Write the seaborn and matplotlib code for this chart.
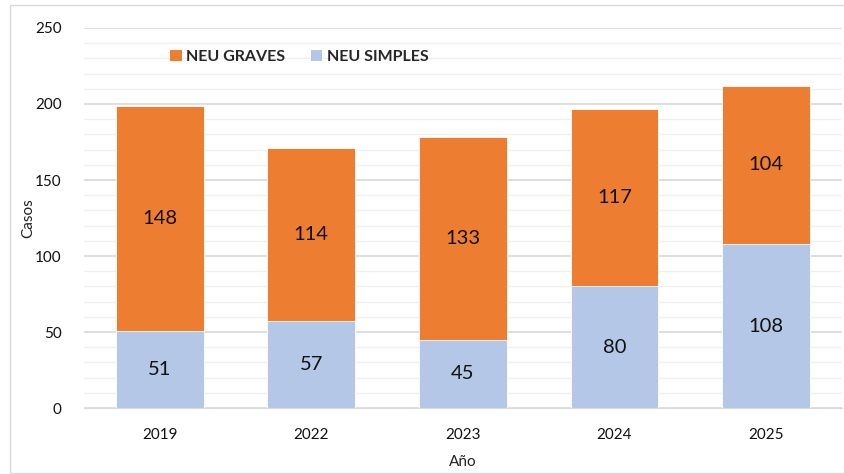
import numpy as np
import pandas as pd
import matplotlib
matplotlib.use("Agg")
import matplotlib.pyplot as plt
import seaborn as sns
from matplotlib.patches import Patch, Rectangle

years = ["2019", "2022", "2023", "2024", "2025"]
simples = [51, 57, 45, 80, 108]
graves = [148, 114, 133, 117, 104]

ORANGE = "#ED7D31"
BLUE = "#B4C7E7"

sns.set_style("white")
plt.rcParams["font.family"] = ["Lato", "DejaVu Sans"]

df = pd.DataFrame({"year": years, "simples": simples, "graves": graves})
df["total"] = df["simples"] + df["graves"]

fig = plt.figure(figsize=(8.44, 4.74), dpi=100)
ax = fig.add_axes([0.0995, 0.139, 0.898, 0.802])

# stacked look: total bar in orange, simples drawn on top in blue
sns.barplot(data=df, x="year", y="total", color=ORANGE, saturation=1,
            width=0.58, edgecolor="white", linewidth=0.6, ax=ax, zorder=3)
sns.barplot(data=df, x="year", y="simples", color=BLUE, saturation=1,
            width=0.58, edgecolor="white", linewidth=0.6, ax=ax, zorder=4)

for i, (s, g) in enumerate(zip(simples, graves)):
    ax.text(i, s / 2, str(s), ha="center", va="center", fontsize=14.5,
            color="#111111", zorder=5)
    ax.text(i, s + g / 2, str(g), ha="center", va="center", fontsize=14.5,
            color="#111111", zorder=5)

ax.set_ylim(0, 250)
ax.set_xlim(-0.5, 4.5)
ax.set_yticks(np.arange(0, 251, 50))
ax.set_yticks(np.arange(0, 251, 10), minor=True)
ax.yaxis.grid(True, which="major", color="#d9d9d9", linewidth=1.2, zorder=0)
ax.yaxis.grid(True, which="minor", color="#f0f0f0", linewidth=1.0, zorder=0)
ax.set_axisbelow(True)
for sp in ["top", "right", "left"]:
    ax.spines[sp].set_visible(False)
ax.spines["bottom"].set_color("#d9d9d9")
ax.tick_params(axis="both", which="both", length=0, labelsize=11, colors="#111111")
ax.tick_params(axis="y", pad=16)
ax.tick_params(axis="x", pad=14)

ax.set_xlabel("Año", fontsize=11, color="#222222", labelpad=10)
ax.set_ylabel("Casos", fontsize=11, color="#222222", labelpad=0)

handles = [Patch(facecolor=ORANGE, edgecolor="none"), Patch(facecolor=BLUE, edgecolor="none")]
leg = ax.legend(handles, ["NEU GRAVES", "NEU SIMPLES"], ncol=2, frameon=False,
                loc="center left", bbox_to_anchor=(0.095, 0.924),
                prop={"weight": "bold", "size": 11.5}, handlelength=0.7,
                handleheight=0.7, handletextpad=0.3, columnspacing=1.6)

# thin outer chart border
fig.patches.append(Rectangle((10 / 844, 0.002), 0.99, 1 - 5 / 474 - 0.002,
                             transform=fig.transFigure, fill=False,
                             edgecolor="#d9d9d9", linewidth=1.0))

fig.savefig("out.png", dpi=100)
